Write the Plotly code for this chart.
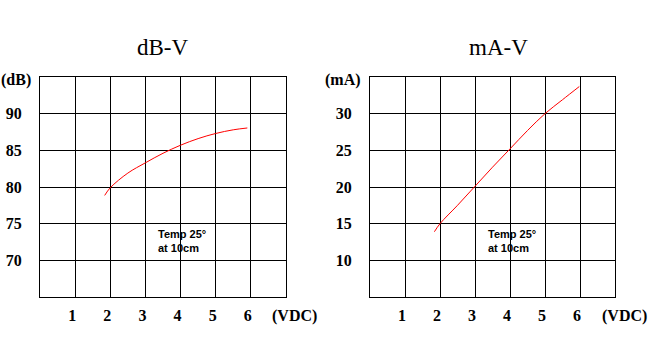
import plotly.graph_objects as go

db_v = [1.84, 2.0, 2.5, 3.0, 3.5, 4.0, 4.5, 5.0, 5.5, 5.9]
db_y = [78.85, 79.9, 81.9, 83.3, 84.6, 85.7, 86.6, 87.3, 87.8, 88.05]
ma_v = [1.84, 2.0, 2.5, 3.0, 3.5, 4.0, 4.5, 5.0, 5.5, 5.98]
ma_y = [13.9, 15.0, 17.5, 20.1, 22.7, 25.2, 27.7, 30.0, 31.9, 33.7]
x_ticks = [1, 2, 3, 4, 5, 6]
db_ticks = [70, 75, 80, 85, 90]
ma_ticks = [10, 15, 20, 25, 30]

W, H = 649, 354
fig = go.Figure()
fig.add_trace(go.Scatter(x=db_v, y=db_y, mode="lines", line=dict(color="red", width=1, shape="spline"),
                         xaxis="x", yaxis="y", showlegend=False))
fig.add_trace(go.Scatter(x=ma_v, y=ma_y, mode="lines", line=dict(color="red", width=1, shape="spline"),
                         xaxis="x2", yaxis="y2", showlegend=False))

def b(vals):
    return ["<b>%s</b>" % v for v in vals]

ydom = [1 - 297 / H, 1 - 77 / H]
tickf = dict(family="Liberation Serif, Times New Roman, serif", size=16, color="black")
common_x = dict(range=[0, 7], tickvals=x_ticks, ticktext=b(x_ticks), showgrid=True, gridcolor="black", gridwidth=1.2,
                showline=True, linecolor="black", linewidth=1.2, mirror=True, zeroline=False,
                ticks="", tickfont=tickf, ticklabelstandoff=4, ticklabelshift=-3, fixedrange=True)
common_y = dict(showgrid=True, gridcolor="black", gridwidth=1.2,
                showline=True, linecolor="black", linewidth=1.2, mirror=True, zeroline=False,
                ticks="", tickfont=tickf, ticklabelstandoff=14, fixedrange=True)

fig.update_layout(
    width=W, height=H, margin=dict(l=0, r=0, t=0, b=0),
    paper_bgcolor="white", plot_bgcolor="white",
    xaxis=dict(domain=[40 / W, 286 / W], anchor="y", **common_x),
    yaxis=dict(domain=ydom, anchor="x", range=[65, 95], tickvals=db_ticks, ticktext=b(db_ticks), **common_y),
    xaxis2=dict(domain=[370 / W, 615 / W], anchor="y2", **common_x),
    yaxis2=dict(domain=ydom, anchor="x2", range=[5, 35], tickvals=ma_ticks, ticktext=b(ma_ticks), **common_y),
)

ann = []
def add(text, x, y, font, xanchor="center"):
    ann.append(dict(text=text, x=x / W, y=1 - y / H, xref="paper", yref="paper", showarrow=False,
                    xanchor=xanchor, yanchor="middle", align="left", font=font))

titlef = dict(family="Liberation Serif, Times New Roman, serif", size=23, color="black")
add("dB-V", 163, 48, titlef)
add("mA-V", 498, 48, titlef)
unitf = dict(family="Liberation Serif, Times New Roman, serif", size=16, color="black")
add("<b>(dB)</b>", 16, 80, unitf)
add("<b>(mA)</b>", 343, 80, unitf)
add("<b>(VDC)</b>", 294, 316, unitf)
add("<b>(VDC)</b>", 624, 316, unitf)
notef = dict(family="Liberation Sans", size=11, color="black")
add("<b>Temp 25°</b><br><b>at 10cm</b>", 156, 241, notef, xanchor="left")
add("<b>Temp 25°</b><br><b>at 10cm</b>", 486, 241, notef, xanchor="left")
fig.update_layout(annotations=ann)

fig.write_html("out.html", config=dict(displayModeBar=False))
